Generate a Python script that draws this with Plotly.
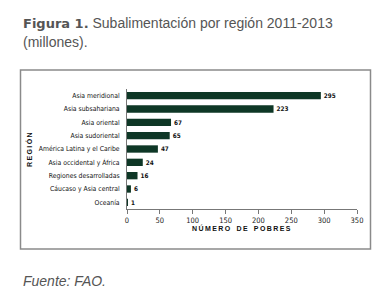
import plotly.graph_objects as go

regions = ["Asia meridional", "Asia subsahariana", "Asia oriental", "Asia sudoriental",
           "América Latina y el Caribe", "Asia occidental y África", "Regiones desarrolladas",
           "Cáucaso y Asia central", "Oceanía"]
values = [295, 223, 67, 65, 47, 24, 16, 6, 1]
x_ticks = [0, 50, 100, 150, 200, 250, 300, 350]

# page is rendered with an 8px body margin -> shift layout
OFF = 8
W, H = 392 - OFF, 299 - OFF
L, T = 127 - OFF, 89 - OFF
PW, PH = 230, 120
R = W - L - PW
B = H - T - PH

def px(x):
    return (x - OFF - L) / PW

def py(y):
    return (T + PH - (y - OFF)) / PH

def spaced(s):
    return "\u2009".join(list(s)).replace("\u2009 \u2009", "\u2009\u2002\u2009")

bar_color = "#0e3726"
narrow = "DejaVu Sans Condensed, Liberation Sans Narrow, Liberation Sans"

fig = go.Figure(go.Bar(
    x=values, y=regions, orientation="h",
    marker=dict(color=bar_color, line=dict(width=0)),
    width=0.55,
    text=[f"<b>{v}</b>" for v in values], textposition="outside",
    textfont=dict(family=narrow, size=9.5, color="#111"),
    cliponaxis=False,
))

fig.update_layout(
    width=W, height=H,
    margin=dict(l=L, r=R, t=T, b=B, pad=0),
    paper_bgcolor="white", plot_bgcolor="white",
    showlegend=False,
    xaxis=dict(range=[0, 350], tickvals=x_ticks, ticktext=[str(t) for t in x_ticks],
               showgrid=False, zeroline=False, showline=True, linecolor="#777", linewidth=1,
               ticks="outside", ticklen=4, tickcolor="#777", automargin=False,
               tickfont=dict(family=narrow, size=7.5, color="#222"), fixedrange=True),
    yaxis=dict(autorange="reversed", showgrid=False, zeroline=False, showline=True,
               linecolor="#777", linewidth=1, ticks="", ticklabelstandoff=5, automargin=False,
               tickfont=dict(family=narrow, size=6.8, color="#111"), fixedrange=True),
)

# frame box
fig.add_shape(type="rect", xref="paper", yref="paper",
              x0=px(20.5), x1=px(370.5), y0=py(249), y1=py(70),
              line=dict(color="#8a8a8a", width=1.5), fillcolor="rgba(0,0,0,0)", layer="below")

ann_font = "Liberation Sans, Arial"
fig.add_annotation(xref="paper", yref="paper", x=px(21), y=py(23), xanchor="left", yanchor="middle",
                   text="<span style='font-family:DejaVu Sans;font-weight:bold;font-size:13px'>Figura 1.</span> Subalimentación por región 2011-2013",
                   showarrow=False, font=dict(family=ann_font, size=14, color="#555"))
fig.add_annotation(xref="paper", yref="paper", x=px(21), y=py(42), xanchor="left", yanchor="middle",
                   text="(millones).", showarrow=False,
                   font=dict(family=ann_font, size=14, color="#555"))
fig.add_annotation(xref="paper", yref="paper", x=px(21), y=py(281), xanchor="left", yanchor="middle",
                   text="<i>Fuente: FAO.</i>", showarrow=False,
                   font=dict(family=ann_font, size=14, color="#555"))
fig.add_annotation(xref="paper", yref="paper", x=px(241), y=py(228), xanchor="center", yanchor="middle",
                   text="<b>" + spaced("NÚMERO DE POBRES") + "</b>", showarrow=False,
                   font=dict(family=ann_font, size=7, color="#111"))
fig.add_annotation(xref="paper", yref="paper", x=px(29), y=py(150), xanchor="center", yanchor="middle",
                   text="<b>" + spaced("REGIÓN") + "</b>", showarrow=False, textangle=-90,
                   font=dict(family=ann_font, size=7, color="#111"))

fig.write_html("out.html")
